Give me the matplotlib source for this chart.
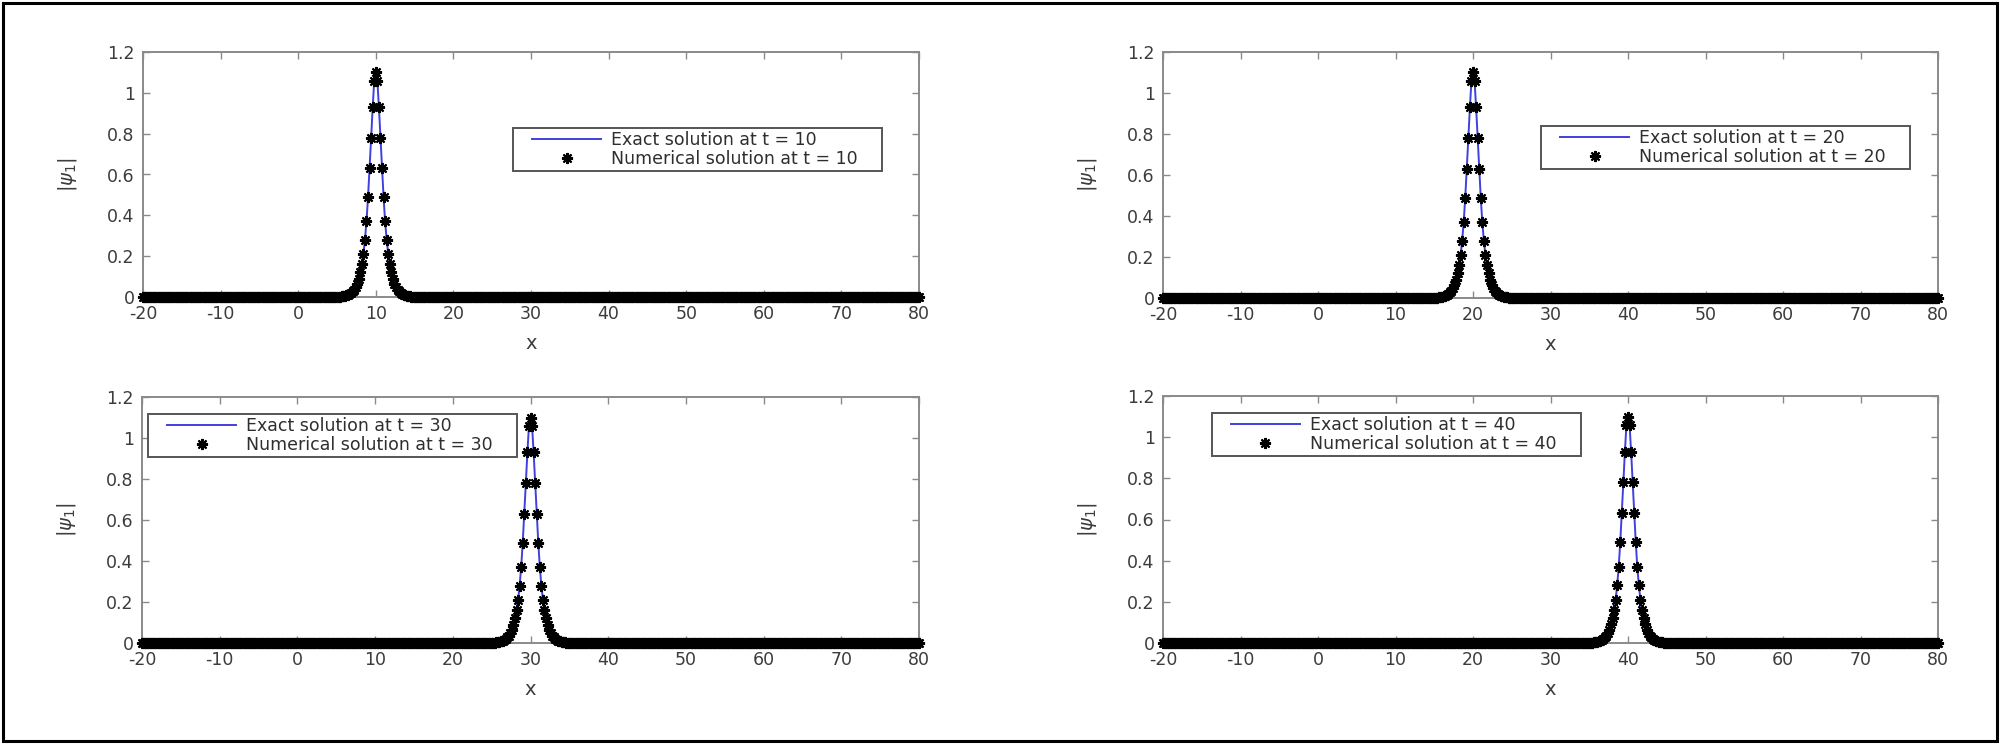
import numpy as np
import matplotlib
matplotlib.use("Agg")
import matplotlib.pyplot as plt
from matplotlib.lines import Line2D
from matplotlib.legend_handler import HandlerLine2D
from matplotlib.patches import Rectangle
from matplotlib.ticker import FormatStrFormatter

plt.rcParams['font.family'] = ['DejaVu Sans']
plt.rcParams['axes.unicode_minus'] = False

# ---------------- data ----------------
x_start, x_end, n_points = -20.0, 80.0, 501          # sampling grid, step 0.2
times = [10, 20, 30, 40]
peak_centers = [10, 20, 30, 40]
# |psi_1| read outward from the pulse centre, one grid step (0.2) apart
peak_profile = [1.10, 1.06, 0.93, 0.78, 0.63, 0.49, 0.37, 0.28, 0.21, 0.16,
                0.12, 0.09, 0.065, 0.048, 0.036, 0.027, 0.020, 0.015, 0.011,
                0.008, 0.006, 0.0045, 0.003, 0.002, 0.0015, 0.001]
xticks = [-20, -10, 0, 10, 20, 30, 40, 50, 60, 70, 80]
yticks = [0, 0.2, 0.4, 0.6, 0.8, 1.0, 1.2]

x = np.linspace(x_start, x_end, n_points)


def build_series(center):
    y = np.zeros_like(x)
    ic = int(np.argmin(np.abs(x - center)))
    for k, v in enumerate(peak_profile):
        if ic + k < len(y):
            y[ic + k] = v
        if ic - k >= 0:
            y[ic - k] = v
    return y


# ---------------- layout ----------------
W, H = 2000, 746
fig = plt.figure(figsize=(W / 100, H / 100), dpi=100)

axes_px = [  # left, top, right, bottom in pixels
    (143, 52, 919, 297),
    (1163, 52, 1938, 298),
    (142, 397, 919, 643),
    (1163, 396, 1938, 643),
]
legend_boxes = [  # x0, y0, w, h in axes coords
    (0.477, 0.498, 0.475, 0.192),
    (0.488, 0.510, 0.476, 0.190),
    (0.008, 0.740, 0.474, 0.190),
    (0.063, 0.740, 0.476, 0.190),
]

spine_col = '#8a8a8a'
tick_col = '#3c3c3c'
blue = '#4040dd'

for i, (l, t, r, b) in enumerate(axes_px):
    ax = fig.add_axes([l / W, 1 - b / H, (r - l) / W, (b - t) / H])
    y = build_series(peak_centers[i])
    ln, = ax.plot(x, y, color=blue, lw=1.4, zorder=2)
    mk, = ax.plot(x, y, linestyle='none', marker=(8, 2, 0), ms=8,
                  mec='black', mfc='black', mew=1.5, color='black',
                  clip_on=False, zorder=3)
    ax.set_xlim(-20, 80)
    ax.set_ylim(0, 1.2)
    ax.set_xticks(xticks)
    ax.set_yticks(yticks)
    ax.yaxis.set_major_formatter(FormatStrFormatter('%g'))
    ax.tick_params(direction='in', top=True, right=True, length=5,
                   width=1, color=spine_col, labelcolor=tick_col,
                   labelsize=12.5, pad=6)
    for s in ax.spines.values():
        s.set_color(spine_col)
        s.set_linewidth(1.4)
    ax.set_xlabel('x', fontsize=14, color=tick_col, va='top')
    ax.xaxis.set_label_coords(0.5, -0.150)
    ax.set_ylabel(r'$|\psi_1|$', fontsize=14, color=tick_col)
    ax.yaxis.set_label_coords(-0.082, 0.5)

    x0, y0, w, h = legend_boxes[i]
    leg = ax.legend([ln, mk],
                    [f'Exact solution at t = {times[i]}',
                     f'Numerical solution at t = {times[i]}'],
                    loc='upper left', bbox_to_anchor=(x0, y0, w, h),
                    mode='expand', borderaxespad=0, fontsize=12.5,
                    handlelength=4.9, handletextpad=0.55, borderpad=0.18,
                    labelspacing=0.05, fancybox=False, framealpha=1,
                    edgecolor='#555555', numpoints=1,
                    handler_map={Line2D: HandlerLine2D(xpad=0.9, numpoints=1)})
    leg.get_frame().set_linewidth(1.4)
    for txt in leg.get_texts():
        txt.set_color('#2e2e2e')

# outer frame
fig.patches.append(Rectangle((3 / W, 1 - 741 / H), 1994 / W, 738 / H,
                             transform=fig.transFigure, fill=False,
                             edgecolor='black', linewidth=2.2))

fig.savefig('out.png', dpi=100, facecolor='white')
